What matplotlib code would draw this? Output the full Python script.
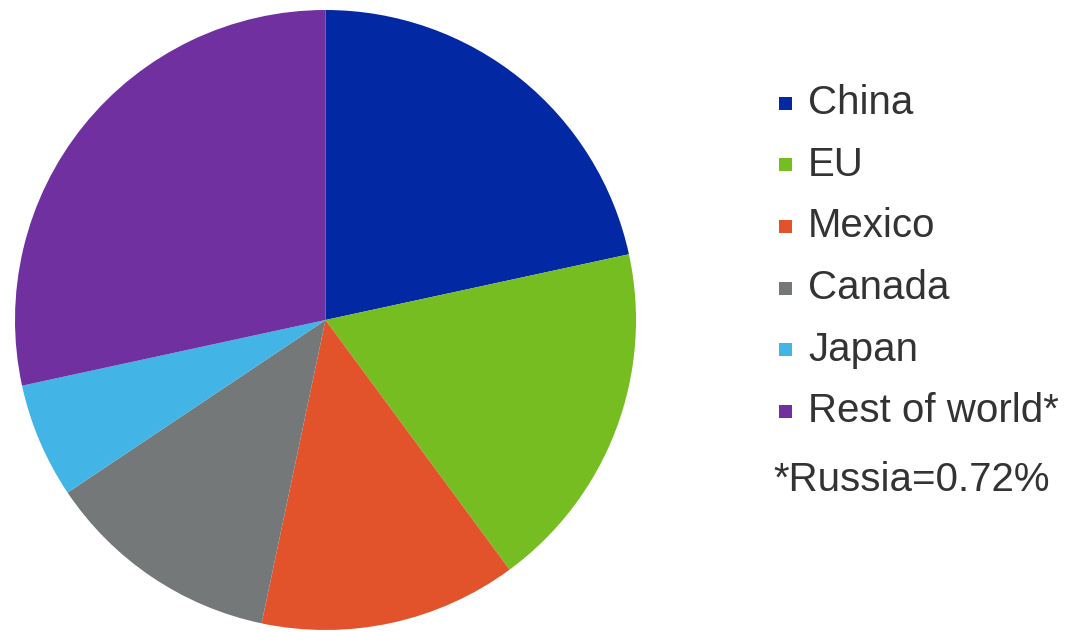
import matplotlib
matplotlib.use("Agg")
import matplotlib.pyplot as plt
from matplotlib.patches import Rectangle

plt.rcParams['font.family'] = ['Liberation Sans', 'DejaVu Sans']

categories = ["China", "EU", "Mexico", "Canada", "Japan", "Rest of world*"]
shares = [21.6, 18.3, 13.4, 12.3, 6.0, 28.4]
colors = ["#0228A3", "#76BD22", "#E2532B", "#747878", "#42B4E6", "#7030A0"]
footnote = "*Russia=0.72%"

W, H = 1079, 632
fig = plt.figure(figsize=(W / 100, H / 100), dpi=100)

# pie axes (pixel box: x 15..636, y 10..630)
ax = fig.add_axes([15 / W, (H - 630) / H, 621 / W, 620 / H])
ax.pie(shares, colors=colors, startangle=90, counterclock=False,
       wedgeprops=dict(linewidth=0))
ax.set_xlim(-1, 1)
ax.set_ylim(-1, 1)
ax.set_aspect('auto')
ax.axis('off')

# legend
txt_color = "#333333"
y0, dy = 103, 61.7
for i, (lab, col) in enumerate(zip(categories, colors)):
    yc = y0 + i * dy
    fig.patches.append(Rectangle((779 / W, (H - yc - 6.5) / H), 13 / W, 13 / H,
                                 transform=fig.transFigure, facecolor=col,
                                 edgecolor='none'))
    fig.text(808 / W, (H - yc) / H, lab, fontsize=29, color=txt_color,
             va='center', ha='left')
fig.text(773 / W, (H - (y0 + 6 * dy + 7)) / H, footnote, fontsize=29,
         color=txt_color, va='center', ha='left')

fig.savefig("out.png", dpi=100, facecolor='white')
